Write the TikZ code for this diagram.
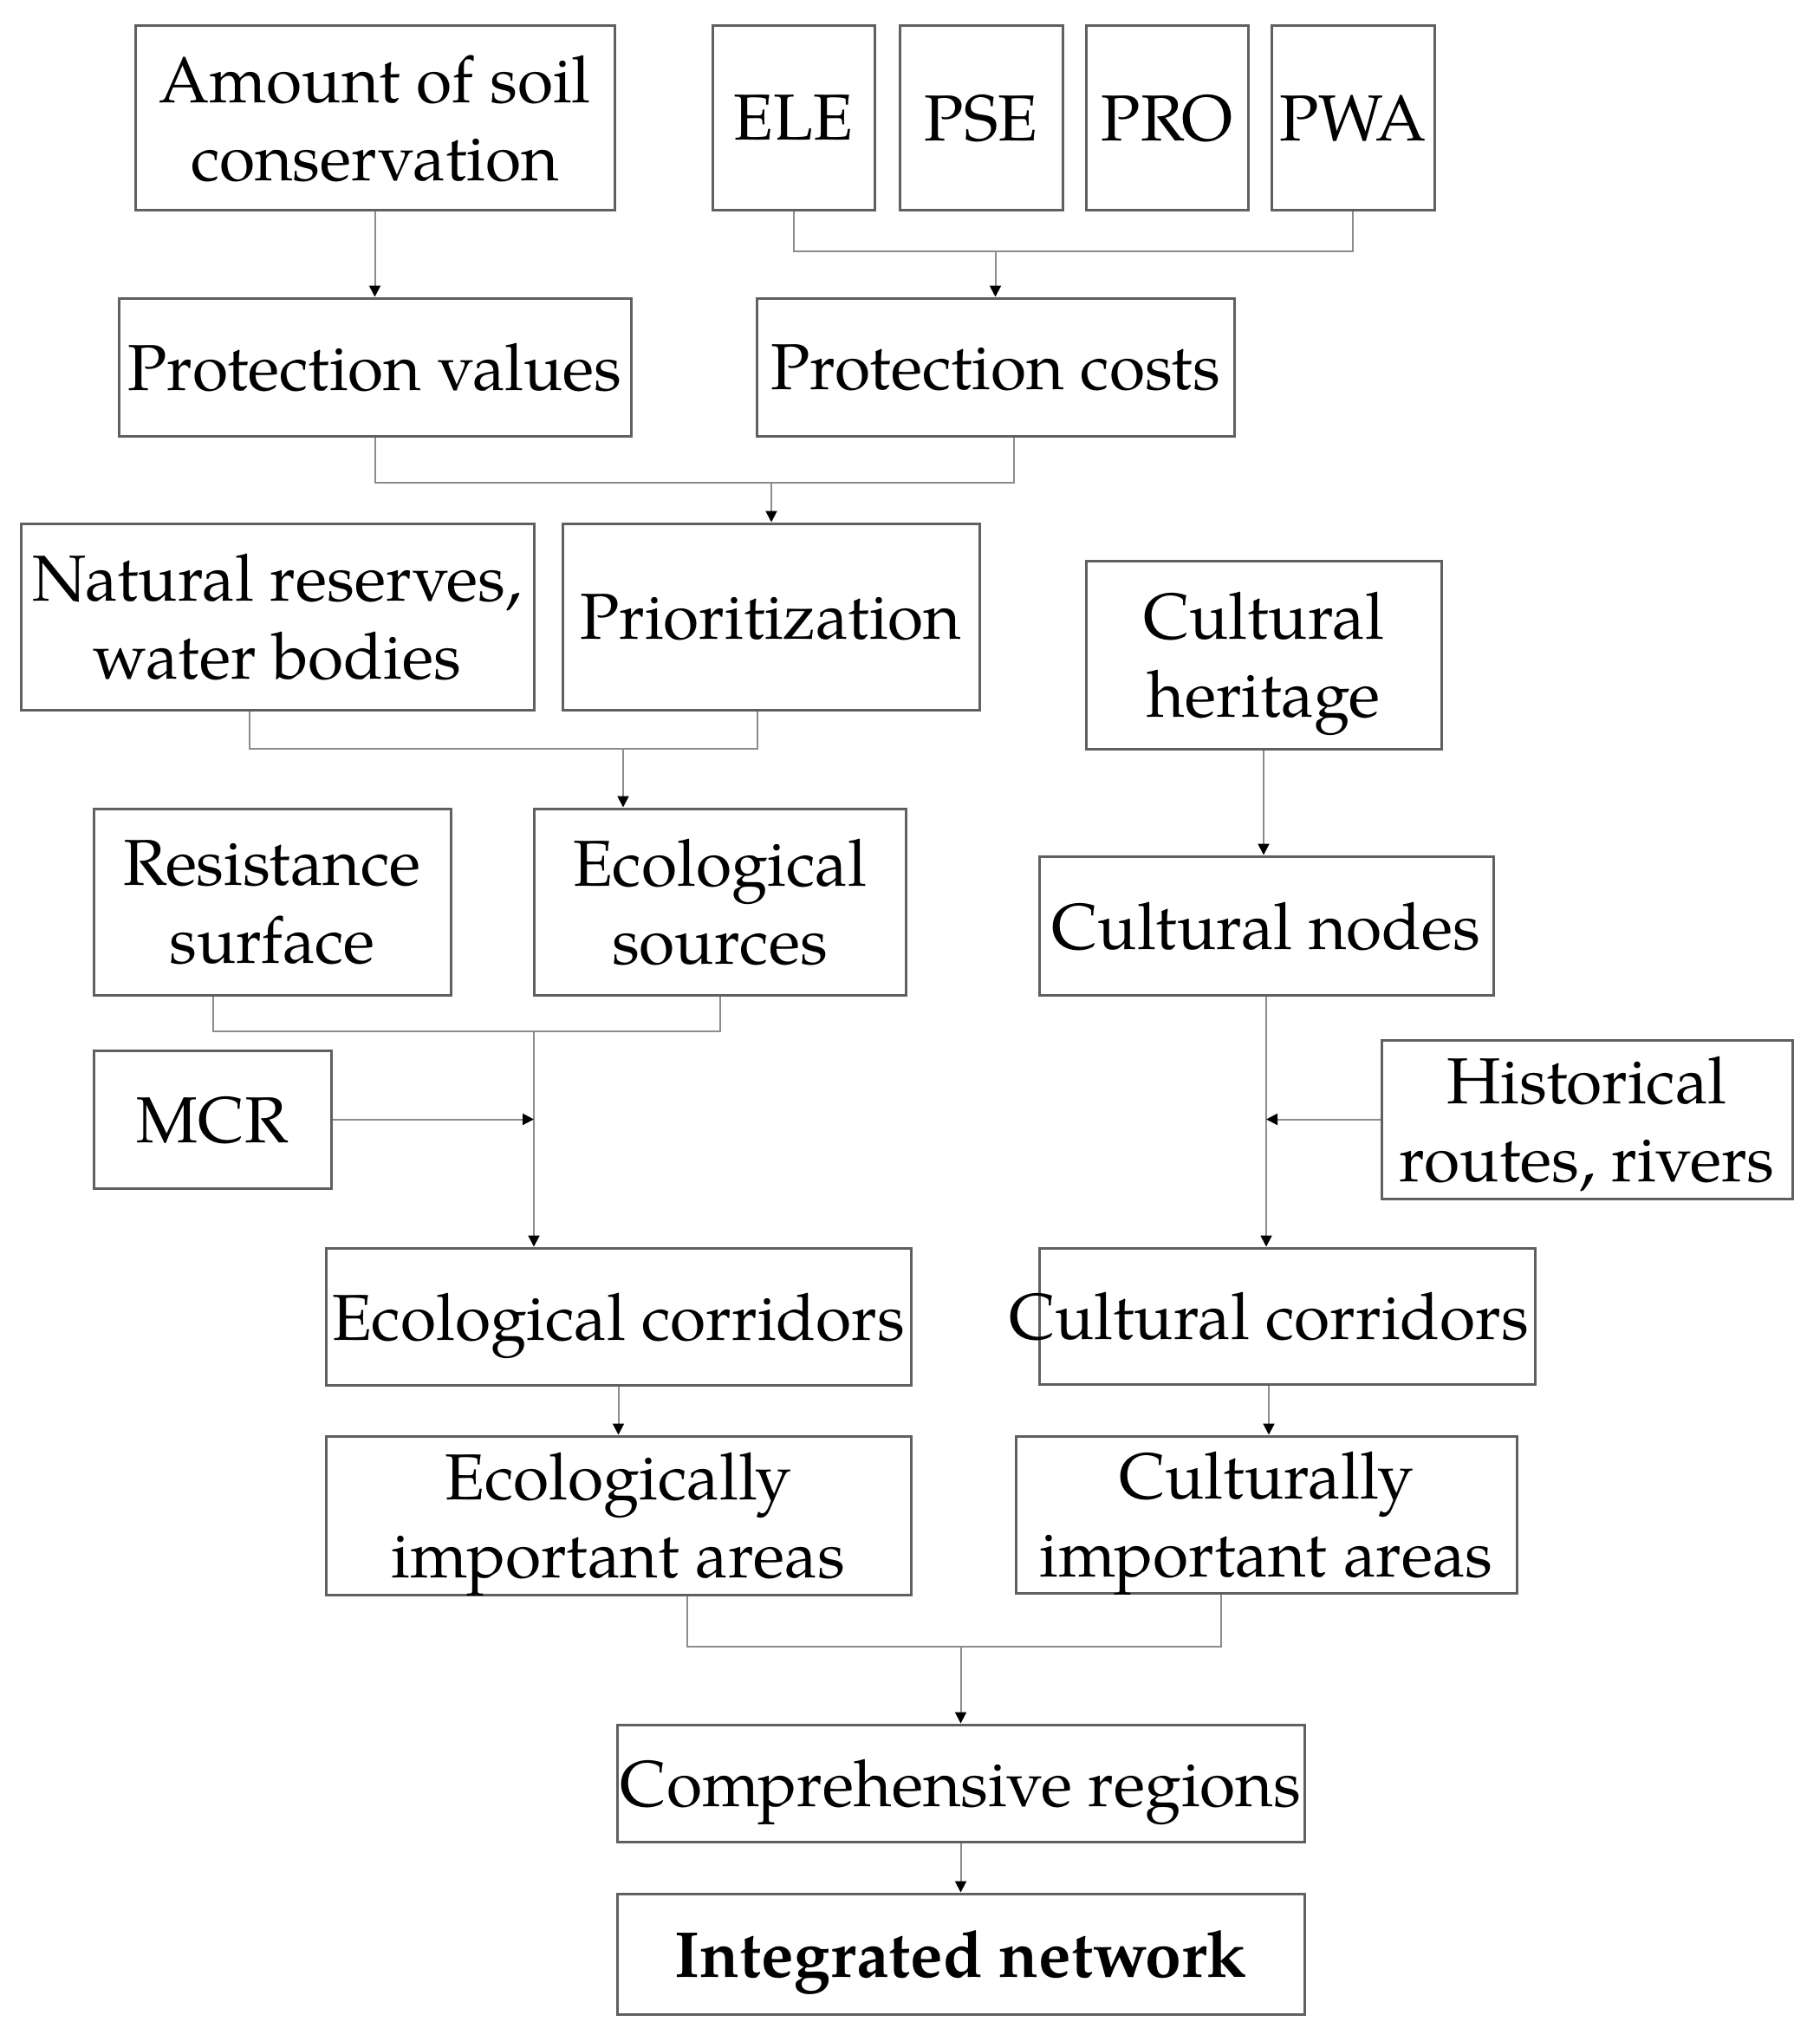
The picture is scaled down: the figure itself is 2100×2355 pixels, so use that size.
\documentclass[tikz,border=0pt]{standalone}
\usepackage{fontspec}
\setmainfont{texgyrepagella}[Extension=.otf, UprightFont=*-regular, BoldFont=*-bold, ItalicFont=*-italic, BoldItalicFont=*-bolditalic]
\usetikzlibrary{arrows.meta}
\definecolor{boxc}{RGB}{96,96,96}
\definecolor{linec}{RGB}{140,140,140}
\newcommand\lastln[1]{\raisebox{0pt}[\height][0pt]{#1}}
\begin{document}
\begin{tikzpicture}[x=1pt,y=-1pt,
  txt/.style={inner sep=0pt, align=center, font=\fontsize{75}{90}\selectfont, text=black},
  bx/.style={txt, draw=boxc, line width=3pt, rectangle},
  ln/.style={draw=linec, line width=2pt},
  arr/.style={ln, -{Triangle[length=13pt,width=13pt,color=black]}}]
\useasboundingbox[fill=white] (0,0) rectangle (2100,2355);
% boxes
\node[bx, minimum width=553pt, minimum height=212pt] (amount) at (432.5,136) {Amount of soil\\\lastln{conservation}};
\node[bx, minimum width=187pt, minimum height=212pt] (ele) at (915.5,136) {\lastln{ELE}};
\node[bx, minimum width=188pt, minimum height=212pt] (pse) at (1132,136) {\lastln{PSE}};
\node[bx, minimum width=187pt, minimum height=212pt] (pro) at (1346.5,136) {\lastln{PRO}};
\node[bx, minimum width=188pt, minimum height=212pt] (pwa) at (1561,136) {\lastln{PWA}};
\node[bx, minimum width=591pt, minimum height=159pt] (pv) at (432.5,423.5) {\lastln{Protection values}};
\node[bx, minimum width=551pt, minimum height=159pt] (pc) at (1148.5,423.5) {\lastln{Protection costs}};
\node[bx, minimum width=592pt, minimum height=215pt] (nr) at (320,711.5) {Natural reserves,\\\lastln{water bodies}};
\node[bx, minimum width=481pt, minimum height=215pt] (prio) at (889.5,711.5) {\lastln{Prioritization}};
\node[bx, minimum width=410pt, minimum height=217pt] (ch) at (1458,755.5) {Cultural\\\lastln{heritage}};
\node[bx, minimum width=412pt, minimum height=215pt] (rs) at (314,1040.5) {Resistance\\\lastln{surface}};
\node[bx, minimum width=429pt, minimum height=215pt] (es) at (830.5,1040.5) {Ecological\\\lastln{sources}};
\node[bx, minimum width=524pt, minimum height=160pt] (cn) at (1461,1068) {\lastln{Cultural nodes}};
\node[bx, minimum width=274pt, minimum height=159pt] (mcr) at (245,1291.5) {\lastln{MCR}};
\node[bx, minimum width=474pt, minimum height=183pt] (hr) at (1831,1291.5) {Historical\\\lastln{routes, rivers}};
\node[bx, minimum width=675pt, minimum height=158pt] (ec) at (713.5,1519) {\lastln{Ecological corridors}};
\node[bx, minimum width=572pt, minimum height=157pt] (cc) at (1485,1518.5) {};
\node[txt] (cctext) at (1464,1518.5) {\lastln{Cultural corridors}};
\node[bx, minimum width=675pt, minimum height=183pt] (eia) at (713.5,1748.5) {Ecologically\\\lastln{important areas}};
\node[bx, minimum width=578pt, minimum height=181pt] (cia) at (1461,1747.5) {Culturally\\\lastln{important areas}};
\node[bx, minimum width=793pt, minimum height=135pt] (cr) at (1108.5,2057.5) {\lastln{Comprehensive regions}};
\node[bx, minimum width=793pt, minimum height=139pt] (in) at (1108.5,2254.5) {\lastln{\textbf{Integrated network}}};
% junctions
\coordinate (j1) at (1148.5,290);
\coordinate (j2) at (890,557);
\coordinate (j3) at (719,864);
\coordinate (j4) at (616,1190);
\coordinate (j5) at (1108.5,1900);
% connectors
\draw[arr] (amount.south) -- (pv.north);
\draw[ln] (ele.south) |- (j1) -| (pwa.south);
\draw[arr] (j1) -- (pc.north);
\draw[ln] (pv.south) |- (j2) -| ([xshift=21.5pt]pc.south);
\draw[arr] (j2) -- (prio.north -| j2);
\draw[ln] ([xshift=-32pt]nr.south) |- (j3) -| ([xshift=-16pt]prio.south);
\draw[arr] (j3) -- (es.north -| j3);
\draw[ln] ([xshift=-68pt]rs.south) |- (es.south |- j4) -- (es.south);
\draw[arr] (j4) -- (ec.north -| j4);
\draw[arr] (mcr.east) -- (mcr.east -| j4);
\draw[arr] (ch.south) -- (ch.south |- cn.north);
\draw[arr] (cn.south) -- (cc.north -| cn.south);
\draw[arr] (hr.west) -- (hr.west -| cn.south);
\draw[arr] (ec.south) -- (eia.north);
\draw[arr] ([xshift=-21pt]cc.south) -- ([xshift=-21pt]cc.south |- cia.north);
\draw[ln] ([xshift=79.5pt]eia.south) |- (j5) -| ([xshift=-52pt]cia.south);
\draw[arr] (j5) -- (cr.north);
\draw[arr] (cr.south) -- (in.north);
\end{tikzpicture}
\end{document}
